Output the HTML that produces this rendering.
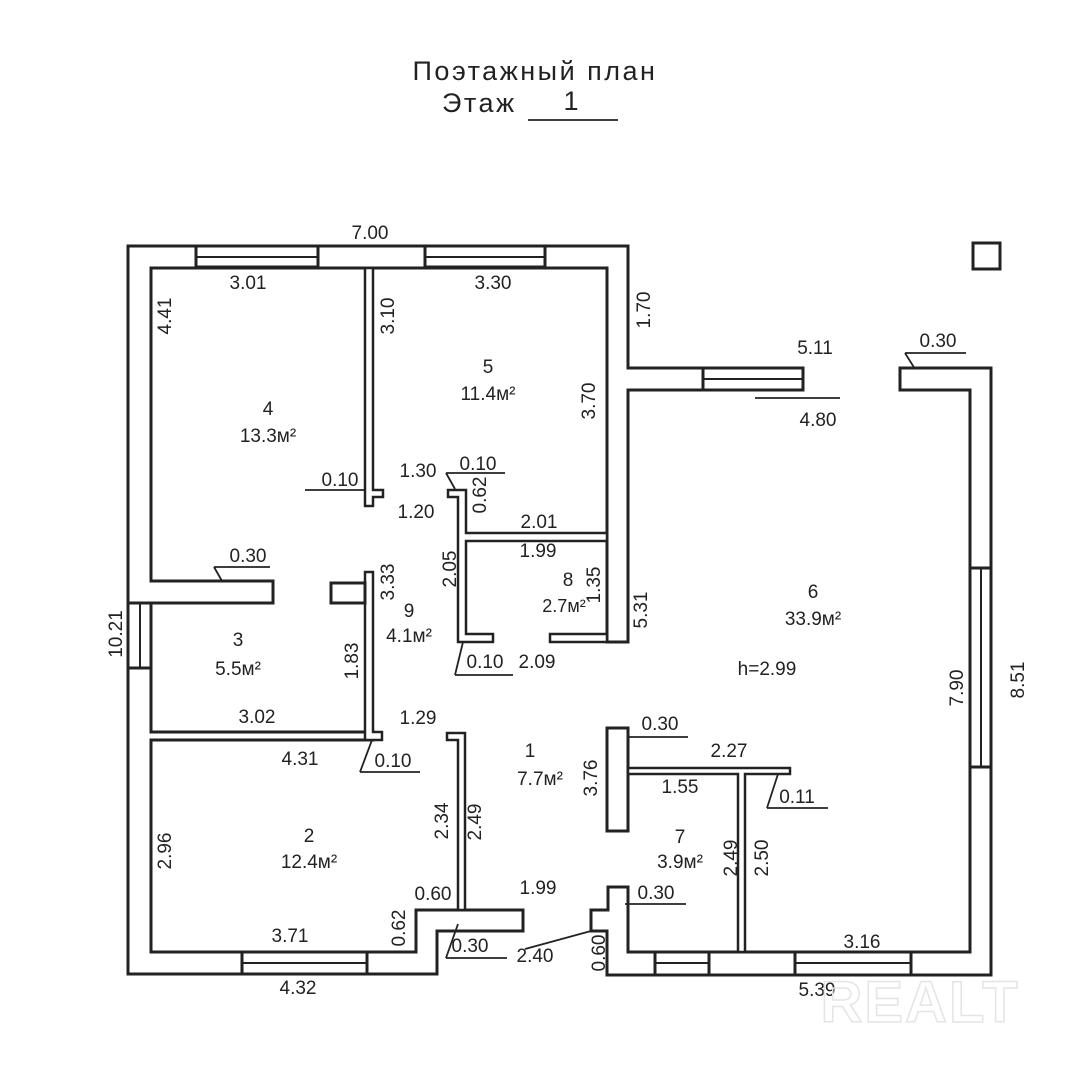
<!DOCTYPE html>
<html><head><meta charset="utf-8"><style>
html,body{margin:0;padding:0;background:#fff}
svg{display:block}
text{font-family:"Liberation Sans Narrow","Liberation Sans","DejaVu Sans",sans-serif;fill:#222;font-size:19px}
</style></head><body>
<svg width="1080" height="1080" viewBox="0 0 1080 1080" xmlns="http://www.w3.org/2000/svg">
<g fill="#fff" stroke="#222" stroke-width="3" stroke-linejoin="miter">
<path d="M128,246 H628 V368 H703 V390 H628 V642 H607 V268 H151 V581 H273 V603 H151 V732 H373 V740 H151 V952 H416 V910 H523 V931 H437 V974 H128 Z"/>
<rect x="196" y="246" width="122" height="21"/>
<rect x="425" y="246" width="120" height="21"/>
<line x1="196" y1="257" x2="318" y2="257" stroke-width="2"/>
<line x1="425" y1="257" x2="545" y2="257" stroke-width="2"/>
<rect x="128" y="603" width="23" height="65"/>
<line x1="140" y1="603" x2="140" y2="668" stroke-width="2"/>
<rect x="242" y="952" width="125" height="22"/>
<line x1="242" y1="963" x2="367" y2="963" stroke-width="2"/>
<rect x="703" y="368" width="100" height="22"/>
<line x1="703" y1="379" x2="803" y2="379" stroke-width="2"/>
<path d="M900,368 H991 V975 H607 V931 H591 V910 H608 V887 H628 V952 H970 V390 H900 Z"/>
<rect x="970" y="568" width="21" height="199"/>
<line x1="981" y1="568" x2="981" y2="767" stroke-width="2"/>
<rect x="655" y="952" width="54" height="23"/>
<line x1="655" y1="963" x2="709" y2="963" stroke-width="2"/>
<rect x="795" y="952" width="116" height="23"/>
<line x1="795" y1="963" x2="911" y2="963" stroke-width="2"/>
<path d="M365,268 V506 H373 V497 H383 V490 H373 V268 Z" stroke-width="2.5"/>
<path d="M365,572 H373 V732 H382 V740 H365 Z" stroke-width="2.5"/>
<rect x="331" y="583" width="34" height="20"/>
<path d="M448,490 H466 V533 H607 V541 H466 V634 H493 V642 H458 V497 H448 Z" stroke-width="2.5"/>
<rect x="550" y="634" width="57" height="8" stroke-width="2.5"/>
<path d="M447,733 H465 V910 H458 V740 H447 Z" stroke-width="2.5"/>
<rect x="607" y="728" width="21" height="103"/>
<path d="M628,768 H790 V774 H745 V952 H738 V774 H628 Z" stroke-width="2.5"/>
<rect x="973" y="243" width="27" height="26"/>
</g>
<g stroke="#222" stroke-width="1.8" fill="none">
<line x1="214" y1="567" x2="270" y2="567"/><line x1="214" y1="567" x2="222" y2="581"/>
<line x1="305" y1="490" x2="365" y2="490"/>
<line x1="446" y1="473" x2="505" y2="473"/><line x1="446" y1="473" x2="455" y2="489"/>
<line x1="455" y1="675" x2="513" y2="675"/><line x1="455" y1="675" x2="463" y2="642"/>
<line x1="360" y1="772" x2="420" y2="772"/><line x1="360" y1="772" x2="372" y2="740"/>
<line x1="755" y1="398" x2="840" y2="398"/>
<line x1="905" y1="353" x2="966" y2="353"/><line x1="905" y1="353" x2="915" y2="369"/>
<line x1="628" y1="737" x2="688" y2="737"/>
<line x1="767" y1="808" x2="828" y2="808"/><line x1="767" y1="808" x2="778" y2="774"/>
<line x1="625" y1="904" x2="686" y2="904"/>
<line x1="446" y1="958" x2="507" y2="958"/><line x1="446" y1="958" x2="458" y2="924"/>
<line x1="525" y1="949" x2="591" y2="931"/>
<line x1="528" y1="120" x2="618" y2="120"/>
</g>
<text x="535" y="80" text-anchor="middle" style="font-size:27px;letter-spacing:2.5px">Поэтажный план</text>
<text x="442" y="112" style="font-size:27px;letter-spacing:2.5px">Этаж</text>
<text x="571" y="110" text-anchor="middle" style="font-size:27px">1</text>
<g text-anchor="middle">
<text x="370" y="239">7.00</text>
<text x="248" y="289">3.01</text>
<text x="493" y="289">3.30</text>
<text x="268" y="415">4</text><text x="268" y="442">13.3м²</text>
<text x="488" y="373">5</text><text x="488" y="400">11.4м²</text>
<text x="340" y="486">0.10</text>
<text x="418" y="477">1.30</text>
<text x="478" y="470">0.10</text>
<text x="416" y="518">1.20</text>
<text x="539" y="528">2.01</text>
<text x="538" y="557">1.99</text>
<text x="248" y="562">0.30</text>
<text x="568" y="586">8</text><text x="564" y="612" style="font-size:18px">2.7м²</text>
<text x="409" y="617">9</text><text x="409" y="642">4.1м²</text>
<text x="238" y="646">3</text><text x="238" y="675">5.5м²</text>
<text x="485" y="668">0.10</text>
<text x="537" y="668">2.09</text>
<text x="813" y="598">6</text><text x="813" y="625">33.9м²</text>
<text x="767" y="675">h=2.99</text>
<text x="257" y="723">3.02</text>
<text x="418" y="724">1.29</text>
<text x="300" y="765">4.31</text>
<text x="393" y="767">0.10</text>
<text x="530" y="757">1</text><text x="540" y="785">7.7м²</text>
<text x="660" y="730">0.30</text>
<text x="729" y="757">2.27</text>
<text x="680" y="793">1.55</text>
<text x="797" y="803">0.11</text>
<text x="309" y="842">2</text><text x="309" y="868">12.4м²</text>
<text x="680" y="843">7</text><text x="680" y="868">3.9м²</text>
<text x="433" y="900">0.60</text>
<text x="538" y="894">1.99</text>
<text x="656" y="899">0.30</text>
<text x="290" y="942">3.71</text>
<text x="862" y="948">3.16</text>
<text x="470" y="952">0.30</text>
<text x="535" y="962">2.40</text>
<text x="298" y="994">4.32</text>
<text x="817" y="996">5.39</text>
<text x="815" y="354">5.11</text>
<text x="818" y="426">4.80</text>
<text x="938" y="347">0.30</text>
</g>
<g text-anchor="middle">
<text transform="translate(650,310) rotate(-90)">1.70</text>
<text transform="translate(394,316) rotate(-90)">3.10</text>
<text transform="translate(595,401) rotate(-90)">3.70</text>
<text transform="translate(171,316) rotate(-90)">4.41</text>
<text transform="translate(486,495) rotate(-90)">0.62</text>
<text transform="translate(456,569) rotate(-90)">2.05</text>
<text transform="translate(394,582) rotate(-90)">3.33</text>
<text transform="translate(600,585) rotate(-90)">1.35</text>
<text transform="translate(647,610) rotate(-90)">5.31</text>
<text transform="translate(122,634) rotate(-90)">10.21</text>
<text transform="translate(358,661) rotate(-90)">1.83</text>
<text transform="translate(963,688) rotate(-90)">7.90</text>
<text transform="translate(1024,680) rotate(-90)">8.51</text>
<text transform="translate(597,778) rotate(-90)">3.76</text>
<text transform="translate(448,821) rotate(-90)">2.34</text>
<text transform="translate(481,822) rotate(-90)">2.49</text>
<text transform="translate(737,858) rotate(-90)">2.49</text>
<text transform="translate(768,858) rotate(-90)">2.50</text>
<text transform="translate(171,851) rotate(-90)">2.96</text>
<text transform="translate(405,928) rotate(-90)">0.62</text>
<text transform="translate(605,953) rotate(-90)">0.60</text>
</g>
<text x="920" y="1022" text-anchor="middle" style="font-size:58px;font-weight:bold;fill:none;stroke:#e4e4e4;stroke-width:1.5;letter-spacing:2px">REALT</text>
</svg>
</body></html>
